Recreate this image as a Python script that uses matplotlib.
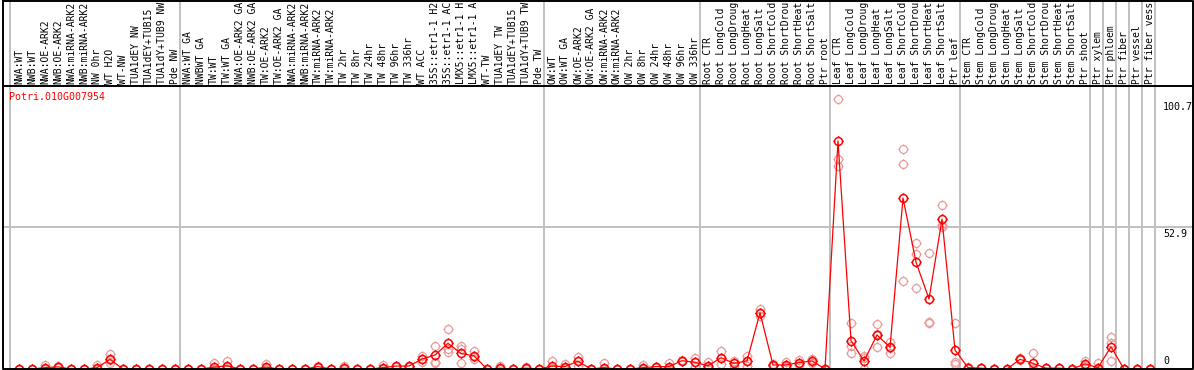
import matplotlib
matplotlib.use("Agg")
import matplotlib.pyplot as plt
import numpy as np
from matplotlib.path import Path

plt.rcParams["font.family"] = "DejaVu Sans Mono"

gene = "Potri.010G007954"

labels = [
    "NWA:WT", "NWB:WT", "NWA:OE-ARK2", "NWB:OE-ARK2", "NWA:miRNA-ARK2", "NWB:miRNA-ARK2",
    "NW 0hr", "WT H2O", "WT-NW", "TUA1dEY NW", "TUA1dEY+TUB15 NW", "TUA1dY+TUB9 NW", "Pde NW",
    "NWA:WT GA", "NWBWT GA", "TW:WT", "TW:WT GA", "NWA:OE-ARK2 GA", "NWB:OE-ARK2 GA",
    "TW:OE-ARK2", "TW:OE-ARK2 GA", "NWA:miRNA-ARK2 GA", "NWB:miRNA-ARK2 GA", "TW:miRNA-ARK2",
    "TW:miRNA-ARK2 GA", "TW 2hr", "TW 8hr", "TW 24hr", "TW 48hr", "TW 96hr", "TW 336hr",
    "WT ACC", "35S::etr1-1 H2O", "35S::etr1-1 ACC", "LMX5::etr1-1 H2O", "LMX5::etr1-1 ACC",
    "WT-TW", "TUA1dEY TW", "TUA1dEY+TUB15 TW", "TUA1dY+TUB9 TW", "Pde TW",
    "OW:WT", "OW:WT GA", "OW:OE-ARK2", "OW:OE-ARK2 GA", "OW:miRNA-ARK2", "OW:miRNA-ARK2 GA",
    "OW 2hr", "OW 8hr", "OW 24hr", "OW 48hr", "OW 96hr", "OW 336hr",
    "Root CTR", "Root LongCold", "Root LongDrought", "Root LongHeat", "Root LongSalt",
    "Root ShortCold", "Root ShortDrought", "Root ShortHeat", "Root ShortSalt", "Ptr root",
    "Leaf CTR", "Leaf LongCold", "Leaf LongDrought", "Leaf LongHeat", "Leaf LongSalt",
    "Leaf ShortCold", "Leaf ShortDrought", "Leaf ShortHeat", "Leaf ShortSalt", "Ptr leaf",
    "Stem CTR", "Stem LongCold", "Stem LongDrought", "Stem LongHeat", "Stem LongSalt",
    "Stem ShortCold", "Stem ShortDrought", "Stem ShortHeat", "Stem ShortSalt", "Ptr shoot",
    "Ptr xylem", "Ptr phloem", "Ptr fiber", "Ptr vessel", "Ptr fiber vessel",
]

means = [
    0, 0, 0.5, 0.8, 0, 0, 0.5, 3.6, 0, 0, 0, 0, 0,
    0, 0, 0.7, 1.2, 0, 0, 0.7, 0, 0, 0, 0.9, 0, 0.3, 0, 0, 0.5, 1.1, 1.1,
    3.7, 5.2, 9.6, 5.8, 4.9, 0, 0.3, 0, 0.3, 0,
    1.1, 0.9, 2.9, 0, 0.5, 0, 0, 0.5, 0.9, 0.9, 3.1, 2.5,
    1.2, 4.2, 2.1, 3.0, 21.0, 1.5, 1.5, 2.4, 3.0, 0,
    85.1, 10.6, 3.0, 12.7, 8.1, 63.8, 39.9, 26.1, 55.9, 7.1,
    0.5, 0.3, 0, 0, 3.6, 2.1, 0.3, 0.3, 0, 1.9,
    0.5, 8.3, 0, 0, 0,
]

reps = [
    [0, 0, 0], [0, 0, 0], [1.5, 0, 0], [1.2, 0.6, 0.6], [0, 0, 0], [0, 0, 0],
    [1.5, 0, 0], [5.5, 3.2, 2.1], [0, 0, 0], [0, 0, 0], [0, 0, 0], [0, 0, 0], [0, 0, 0],
    [0, 0, 0], [0, 0, 0], [2.1, 0, 0], [3.0, 0.6, 0], [0, 0, 0], [0, 0, 0],
    [1.7, 0.4, 0], [0, 0, 0], [0, 0, 0], [0, 0, 0], [1.2, 0.9, 0.6],
    [0, 0, 0], [1.0, 0, 0], [0, 0, 0], [0, 0, 0], [1.4, 0, 0], [1.3, 1.1, 0.9], [1.3, 1.1, 0.9],
    [4.9, 3.7, 2.5], [8.7, 2.7, 2.1], [14.8, 7.5, 6.5], [8.6, 7.3, 2.4], [6.8, 4.3, 3.6],
    [0, 0, 0], [1.0, 0, 0], [0, 0, 0], [0.6, 0.3, 0], [0, 0, 0],
    [3.1, 0.2, 0], [1.9, 0.5, 0.3], [4.6, 3.0, 1.1], [0, 0, 0], [2.1, 0, 0], [0, 0, 0],
    [0, 0, 0], [1.5, 0, 0], [0.9, 0.9, 0.9], [2.4, 0.3, 0], [3.3, 3.1, 2.9], [4.0, 2.6, 0.9],
    [2.5, 0.8, 0.3], [6.7, 4.2, 1.7], [3.0, 2.2, 1.1], [5.0, 3.0, 1.1], [22.4, 20.8, 19.8],
    [1.8, 1.5, 1.2], [2.7, 1.2, 0.6], [3.4, 2.4, 1.4], [3.6, 3.2, 2.1], [0, 0, 0],
    [100.7, 78.2, 75.7], [17.3, 8.7, 5.8], [4.9, 4.0, 0], [16.8, 13.2, 8.1], [10.2, 8.0, 6.1],
    [82.0, 76.4, 32.8], [46.9, 42.9, 30.1], [43.2, 17.6, 17.2], [61.1, 53.6, 52.9], [17.0, 2.7, 1.7],
    [0.8, 0.5, 0.2], [0.3, 0.3, 0.3], [0, 0, 0], [0, 0, 0], [4.0, 3.6, 3.2],
    [5.8, 0.5, 0], [0.3, 0.3, 0.3], [0.3, 0.3, 0.3], [0, 0, 0], [2.9, 1.9, 1.0],
    [2.1, 0, 0], [11.8, 9.8, 3.0], [0, 0, 0], [0, 0, 0], [0, 0, 0],
]

group_sizes = [13, 28, 12, 10, 10, 10, 1, 1, 1, 1, 1]
yticks = [0, 52.9, 100.7]

# layout in pixels
W, H = 1194, 370
x0_px, step_px = 19, 13
head_px, bot_px = 86, 369
px_per_unit = 2.68
grey = "#c0c0c0"
maxchars = 14  # header labels are cut to this length

fig = plt.figure(figsize=(W / 100, H / 100), dpi=100)
ax = fig.add_axes([0, (H - bot_px) / H, 1, (bot_px - head_px) / H])
hx = fig.add_axes([0, (H - head_px) / H, 1, head_px / H], sharex=ax)
ax.set_xlim(-x0_px / step_px, (W - x0_px) / step_px)
ax.set_ylim(0, (bot_px - head_px) / px_per_unit)
hx.set_ylim(0, 1)
ax.axis("off")
hx.axis("off")

# marker: open circle with four small ticks
circ = Path.unit_circle()
tk = Path([(0, 1), (0, 1.3), (0, -1), (0, -1.3), (1, 0), (1.3, 0), (-1, 0), (-1.3, 0)],
          [Path.MOVETO, Path.LINETO] * 4)
mk = Path.make_compound_path(circ, tk)

# separators
bounds = [-0.7] + list(np.cumsum(group_sizes) - 1 + 0.4)
for b in bounds:
    ax.axvline(b, color=grey, lw=1.4, zorder=0)
    hx.axvline(b, color=grey, lw=1.4, zorder=0)
ax.axhline(yticks[1], xmin=3 / W, xmax=1193 / W, color=grey, lw=1.4, zorder=0)

x = np.arange(len(means))
xr = [i for i, r in enumerate(reps) for _ in r]
yr = [v for r in reps for v in r]
ax.plot(xr, yr, ls="none", marker=mk, ms=7.4, mfc="none", mec="#e99c9c", mew=0.9, zorder=2)
ax.plot(x, means, color="red", lw=0.9, zorder=3)
ax.plot(x, means, ls="none", marker=mk, ms=7.4, mfc="none", mec="red", mew=1.1, zorder=4)

for i, lab in enumerate(labels):
    hx.text(i, 2 / head_px, lab[:maxchars].rstrip(), rotation=90, ha="center", va="bottom",
            fontsize=7.0)

ax.text(9 / W, 1 - 11 / (bot_px - head_px), gene, color="red", fontsize=7.2,
        transform=ax.transAxes, ha="left", va="center")

offs = {0: 2, 52.9: -1, 100.7: -2}
for v in yticks:
    ax.annotate(str(v), xy=(1163 / W, v), xycoords=("axes fraction", "data"),
                xytext=(0, offs[v]), textcoords="offset points", fontsize=7.2,
                ha="left", va="bottom" if v == 0 else "top")

# frame
def fline(xs, ys):
    fig.add_artist(plt.Line2D([p / W for p in xs], [1 - p / H for p in ys],
                              color="black", lw=1.4, transform=fig.transFigure))

fline([3, 1193, 1193, 3, 3], [0.7, 0.7, 369, 369, 0.7])
fline([3, 1193], [head_px, head_px])

fig.savefig("out.png", dpi=100)
